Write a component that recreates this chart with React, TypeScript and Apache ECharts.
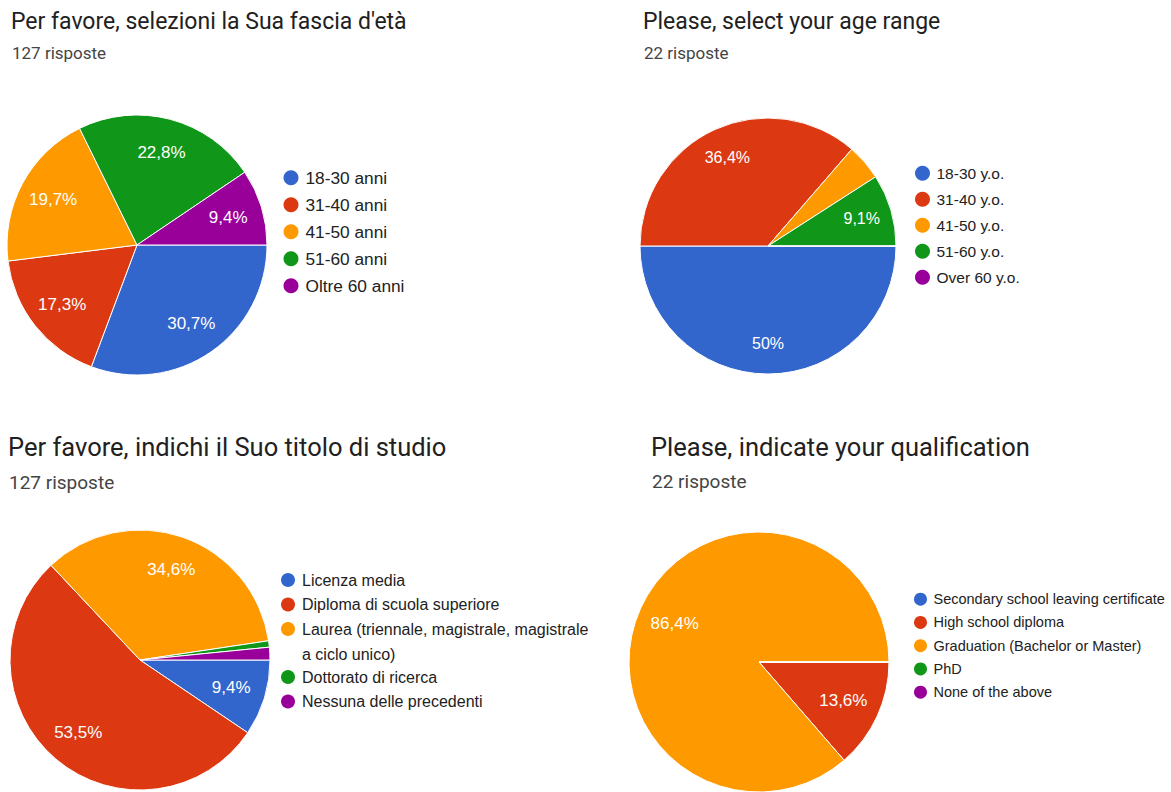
import React, { useEffect, useRef } from "react";
import * as echarts from "echarts";

// ---------- data ----------
const COLORS = ["#3366cc", "#dc3912", "#ff9900", "#109618", "#990099"];

const ageTitleIt = "Per favore, selezioni la Sua fascia d'età";
const ageResponsesIt = "127 risposte";
const ageLabelsIt = ["18-30 anni", "31-40 anni", "41-50 anni", "51-60 anni", "Oltre 60 anni"];
const ageCountsIt = [39, 22, 25, 29, 12];

const ageTitleEn = "Please, select your age range";
const ageResponsesEn = "22 risposte";
const ageLabelsEn = ["18-30 y.o.", "31-40 y.o.", "41-50 y.o.", "51-60 y.o.", "Over 60 y.o."];
const ageCountsEn = [11, 8, 1, 2, 0];

const eduTitleIt = "Per favore, indichi il Suo titolo di studio";
const eduResponsesIt = "127 risposte";
const eduLaureaLines = ["Laurea (triennale, magistrale, magistrale", "a ciclo unico)"];
const eduLabelsIt = [
  "Licenza media",
  "Diploma di scuola superiore",
  eduLaureaLines.join(" "),
  "Dottorato di ricerca",
  "Nessuna delle precedenti",
];
const eduCountsIt = [12, 68, 44, 1, 2];

const eduTitleEn = "Please, indicate your qualification";
const eduResponsesEn = "22 risposte";
const eduLabelsEn = [
  "Secondary school leaving certificate",
  "High school diploma",
  "Graduation (Bachelor or Master)",
  "PhD",
  "None of the above",
];
const eduCountsEn = [0, 3, 19, 0, 0];

// ---------- layout / styles ----------
const SANS = "'Liberation Sans', Arial, sans-serif";
const TITLE_FONT = "Roboto, 'Noto Sans', sans-serif";

const panels = [
  {
    names: ageLabelsIt, counts: ageCountsIt, title: ageTitleIt, sub: ageResponsesIt,
    center: [137, 245], r: 130, labelSize: 17, labelInner: 0.42,
    titleX: 11, titleY: 21, titleSize: 23, subY: 53, subSize: 17,
  },
  {
    names: ageLabelsEn, counts: ageCountsEn, title: ageTitleEn, sub: ageResponsesEn,
    center: [768, 246], r: 128, labelSize: 16, labelInner: 0.48,
    titleX: 643, titleY: 21, titleSize: 23, subY: 53, subSize: 17,
  },
  {
    names: eduLabelsIt, counts: eduCountsIt, title: eduTitleIt, sub: eduResponsesIt,
    center: [140, 660], r: 130, labelSize: 17, labelInner: 0.42,
    titleX: 8, titleY: 447, titleSize: 25.5, subY: 482, subSize: 19,
  },
  {
    names: eduLabelsEn, counts: eduCountsEn, title: eduTitleEn, sub: eduResponsesEn,
    center: [759, 662], r: 130, labelSize: 17, labelInner: 0.38,
    titleX: 651, titleY: 447, titleSize: 25.5, subY: 481, subSize: 19,
  },
];

const pctText = (v: number, total: number) => {
  const s = ((v / total) * 100).toFixed(1);
  return (s.endsWith(".0") ? s.slice(0, -2) : s).replace(".", ",") + "%";
};

const legendBase = {
  orient: "vertical",
  icon: "circle",
  padding: 0,
  selectedMode: false,
  itemStyle: { borderWidth: 0 },
};

export default function App() {
  const ref = useRef<HTMLDivElement>(null);

  useEffect(() => {
    document.body.style.margin = "0";
    if (!ref.current) return;
    const chart = echarts.init(ref.current, undefined, { renderer: "svg" });

    const mainSeries: any[] = [];
    const labelSeries: any[] = [];
    const graphics: any[] = [];

    panels.forEach((p, pi) => {
      const total = p.counts.reduce((a, b) => a + b, 0);
      mainSeries.push({
        type: "pie",
        id: "pie" + pi,
        center: p.center,
        radius: p.r,
        startAngle: 0,
        clockwise: true,
        silent: true,
        avoidLabelOverlap: false,
        stillShowZeroSum: true,
        label: { show: false },
        labelLine: { show: false },
        emphasis: { disabled: true },
        itemStyle: { borderColor: "#ffffff", borderWidth: 1 },
        data: p.names.map((n, i) => ({
          name: n,
          value: p.counts[i],
          itemStyle: { color: COLORS[i] },
        })),
      });
      labelSeries.push({
        type: "pie",
        id: "lbl" + pi,
        center: p.center,
        radius: [p.r * p.labelInner, p.r],
        startAngle: 0,
        clockwise: true,
        silent: true,
        avoidLabelOverlap: false,
        emphasis: { disabled: true },
        itemStyle: { color: "rgba(0,0,0,0)", borderWidth: 0 },
        labelLine: { show: false },
        label: {
          show: true,
          position: "inside",
          color: "#ffffff",
          fontSize: p.labelSize,
          fontFamily: SANS,
          formatter: (params: any) => pctText(params.value, total),
        },
        data: p.names.map((n, i) => ({
          name: n,
          value: p.counts[i],
          label: { show: p.counts[i] / total >= 0.05 },
        })),
      });
      graphics.push(
        {
          type: "text",
          x: p.titleX,
          y: p.titleY,
          silent: true,
          style: {
            text: p.title,
            fontSize: p.titleSize,
            fontFamily: TITLE_FONT,
            fill: "#212121",
            verticalAlign: "middle",
          },
        },
        {
          type: "text",
          x: p.titleX + 1,
          y: p.subY,
          silent: true,
          style: {
            text: p.sub,
            fontSize: p.subSize,
            fontFamily: TITLE_FONT,
            fill: "#444444",
            verticalAlign: "middle",
          },
        }
      );
    });

    graphics.push({
      type: "text",
      x: 302,
      y: 654,
      silent: true,
      style: {
        text: eduLaureaLines[1],
        fontSize: 16,
        fontFamily: SANS,
        fill: "#222222",
        verticalAlign: "middle",
      },
    });

    const legends: any[] = [
      {
        ...legendBase,
        left: 283.5,
        top: 169.3,
        itemWidth: 19,
        itemHeight: 15,
        itemGap: 10,
        data: ageLabelsIt,
        textStyle: { fontSize: 17.3, fontFamily: SANS, color: "#222222" },
      },
      {
        ...legendBase,
        left: 915,
        top: 165.2,
        itemWidth: 18,
        itemHeight: 15,
        itemGap: 10,
        data: ageLabelsEn,
        textStyle: { fontSize: 15.5, fontFamily: SANS, color: "#222222" },
      },
      {
        ...legendBase,
        left: 281,
        top: 572,
        itemWidth: 18,
        itemHeight: 14,
        itemGap: 8.5,
        data: eduLabelsIt.slice(0, 3),
        formatter: (name: string) => (name === eduLabelsIt[2] ? eduLaureaLines[0] : name),
        textStyle: { fontSize: 16, fontFamily: SANS, color: "#222222" },
      },
      {
        ...legendBase,
        left: 281,
        top: 669,
        itemWidth: 18,
        itemHeight: 14,
        itemGap: 8.5,
        data: eduLabelsIt.slice(3),
        textStyle: { fontSize: 16, fontFamily: SANS, color: "#222222" },
      },
      {
        ...legendBase,
        left: 914,
        top: 591.7,
        itemWidth: 16,
        itemHeight: 13,
        itemGap: 8.25,
        data: eduLabelsEn,
        textStyle: { fontSize: 14.5, fontFamily: SANS, color: "#222222" },
      },
    ];

    chart.setOption({
      animation: false,
      backgroundColor: "#ffffff",
      legend: legends,
      graphic: graphics,
      series: [...mainSeries, ...labelSeries],
    });

    return () => {
      chart.dispose();
    };
  }, []);

  return <div ref={ref} style={{ width: 1171, height: 792 }} />;
}
